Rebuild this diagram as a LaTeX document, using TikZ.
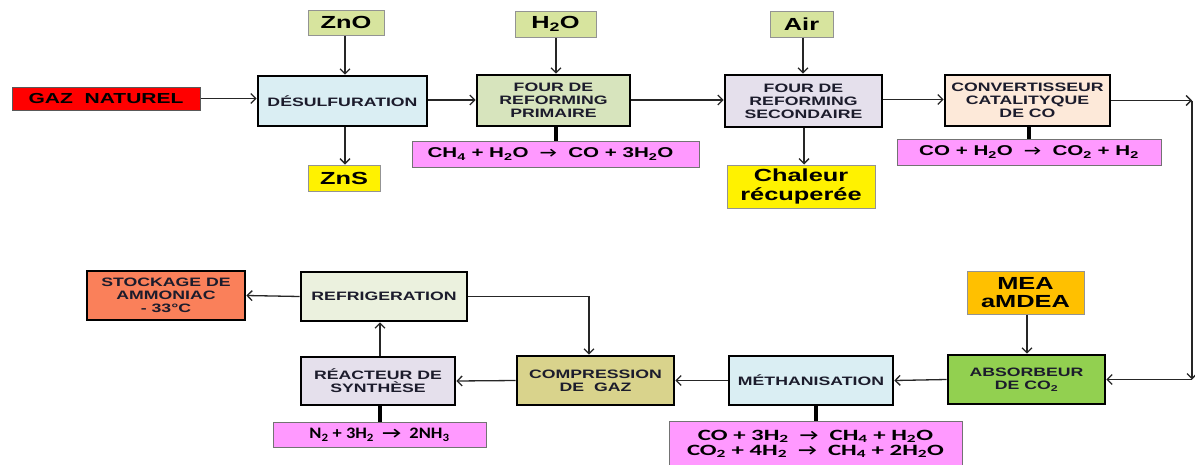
\documentclass[tikz,border=0pt]{standalone}
\usepackage{fontspec}
\setmainfont{Liberation Sans}
\newfontfamily\wide{Liberation Sans}[FakeStretch=1.45]
\newfontfamily\eqfont{Carlito}[FakeStretch=1.15]
\newfontfamily\eqwide{Carlito}[FakeStretch=1.58]
\newfontfamily\arrfont{Carlito}[FakeStretch=1.3]
\newcommand\rxarrow{\ \ {\arrfont\bfseries →}\ \ }
\usetikzlibrary{arrows.meta}

\definecolor{feedgreen}{HTML}{D7E49E}
\definecolor{eqpink}{HTML}{FF99FF}
\definecolor{desblue}{HTML}{DAEEF3}
\definecolor{primgreen}{HTML}{D7E4BD}
\definecolor{seclav}{HTML}{E5E0EC}
\definecolor{convpeach}{HTML}{FDE9D9}
\definecolor{meaorange}{HTML}{FFC000}
\definecolor{absgreen}{HTML}{92D050}
\definecolor{compkhaki}{HTML}{D9D38C}
\definecolor{refrgreen}{HTML}{EBF1DE}
\definecolor{stockcoral}{HTML}{FA805A}
\definecolor{textdark}{HTML}{1C1C2C}

\begin{document}
\begin{tikzpicture}[x=1pt,y=-1pt,
  proc/.style={draw=black, line width=2.6pt, inner sep=0pt, align=center,
    text=textdark, font=\wide\bfseries\fontsize{12.2}{12.9}\selectfont},
  feed/.style={draw=gray!85, line width=1pt, inner sep=0pt, align=center,
    font=\wide\bfseries\fontsize{17.5}{18.5}\selectfont},
  eqbox/.style={draw=gray!90!black, line width=1pt, fill=eqpink, inner sep=0pt,
    align=center, font=\wide\bfseries\fontsize{14.2}{15}\selectfont},
  flow/.style={draw=black!85, line width=1.3pt,
    -{Straight Barb[length=5pt,width=10pt,line width=1.3pt]}},
  feedflow/.style={flow, line width=2pt},
  link/.style={draw=black, line width=4pt}]

\useasboundingbox (0,0) rectangle (1195,464);

% --- upper line: gas preparation ---
\node[draw=gray!70!black, line width=1pt, fill=red, inner sep=0pt,
  minimum width=188pt, minimum height=23pt,
  font=\wide\bfseries\fontsize{14.5}{15}\selectfont] (gaz) at (106,98.5) {GAZ\ \ NATUREL};
\node[proc, fill=desblue, minimum width=169pt, minimum height=50pt] (des) at (342.5,101) {DÉSULFURATION};
\node[feed, fill=feedgreen, minimum width=76pt, minimum height=25pt] (zno) at (346,22.5) {ZnO};
\node[feed, fill=yellow, minimum width=72pt, minimum height=26pt] (zns) at (344,178) {ZnS};

\node[feed, fill=feedgreen, minimum width=81pt, minimum height=26pt] (h2o) at (555.5,24) {H\textsubscript{2}O};
\node[proc, fill=primgreen, minimum width=153pt, minimum height=51pt] (fp) at (553.5,100.5) {FOUR DE\\REFORMING\\PRIMAIRE};
\node[eqbox, minimum width=287pt, minimum height=26pt] (eq1) at (555.5,154)
  {CH\textsubscript{4} + H\textsubscript{2}O\rxarrow CO + 3H\textsubscript{2}O\hspace{10pt}};

\node[feed, fill=feedgreen, minimum width=63pt, minimum height=26pt] (air) at (801.5,24) {Air};
\node[proc, fill=seclav, minimum width=157pt, minimum height=52pt] (fs) at (803.5,101) {FOUR DE\\REFORMING\\SECONDAIRE};
\node[feed, fill=yellow, minimum width=148pt, minimum height=43pt] (chal) at (801,186.5) {Chaleur\\récuperée};

\node[proc, fill=convpeach, minimum width=165pt, minimum height=51pt] (conv) at (1027.5,100.5) {CONVERTISSEUR\\CATALITYQUE\\DE CO};
\node[eqbox, minimum width=264pt, minimum height=26pt] (eq2) at (1029,152)
  {CO + H\textsubscript{2}O\rxarrow CO\textsubscript{2} + H\textsubscript{2}};

\coordinate (c1) at (1192,100.5);
\coordinate (c2) at (1192,379.5);

% --- lower line: purification and synthesis ---
\node[feed, fill=meaorange, minimum width=117pt, minimum height=43pt] (mea) at (1025.5,292.5) {MEA\\aMDEA};
\node[proc, fill=absgreen, minimum width=157pt, minimum height=49pt] (abs) at (1026.5,379.5) {ABSORBEUR\\DE CO\textsubscript{2}};
\node[proc, fill=desblue, minimum width=164pt, minimum height=49pt] (meth) at (811,380.5) {MÉTHANISATION};
\node[eqbox, minimum width=293pt, minimum height=46pt, font=\eqwide\bfseries\fontsize{15.7}{14.8}\selectfont] (eq3) at (815.5,444)
  {CO + 3H\textsubscript{2}\rxarrow CH\textsubscript{4} + H\textsubscript{2}O\\
   CO\textsubscript{2} + 4H\textsubscript{2}\rxarrow CH\textsubscript{4} + 2H\textsubscript{2}O};
\node[proc, fill=compkhaki, minimum width=157pt, minimum height=49pt] (comp) at (595.5,380.5) {COMPRESSION\\DE\ \ GAZ};
\node[proc, fill=seclav, minimum width=154pt, minimum height=48pt] (reac) at (378,381) {RÉACTEUR DE\\SYNTHÈSE};
\node[eqbox, minimum width=213pt, minimum height=25pt, font=\eqfont\bfseries\fontsize{16}{16}\selectfont] (eq4) at (379.5,434.5)
  {N\textsubscript{2} + 3H\textsubscript{2}\rxarrow 2NH\textsubscript{3}};
\node[proc, fill=refrgreen, minimum width=166pt, minimum height=49pt] (refr) at (384,296.5) {REFRIGERATION};
\node[proc, fill=stockcoral, minimum width=158pt, minimum height=49pt] (stock) at (166,295.5) {STOCKAGE DE\\AMMONIAC\\- 33°C};
\coordinate (c3) at (589,296.5);

% --- connectors ---
\draw[flow] (gaz.east) -- (gaz.east -| des.west);
\draw[feedflow] (zno.south -| 345,0) -- (345,0 |- des.north);
\draw[feedflow] (des.south -| 345,0) -- (345,0 |- zns.north);
\draw[flow] (des.east |- 0,100) -- (fp.west |- 0,100);
\draw[flow] (h2o.south -| 556,0) -- (556,0 |- fp.north);
\draw[link] (fp.south -| 556,0) -- (556,0 |- eq1.north);
\draw[flow] (fp.east |- 0,100) -- (fs.west |- 0,100);
\draw[feedflow] (air.south -| 803,0) -- (803,0 |- fs.north);
\draw[flow] (fs.south -| 804,0) -- (804,0 |- chal.north);
\draw[flow] (fs.east |- 0,99.5) -- (conv.west |- 0,99.5);
\draw[link] (conv.south -| 1029,0) -- (1029,0 |- eq2.north);
\draw[flow] (conv.east) -- (c1);
\draw[feedflow] (c1) -- (c2);
\draw[flow] (c2) -- (abs.east);
\draw[flow] (mea.south -| 1027,0) -- (1027,0 |- abs.north);
\draw[flow] (abs.west) -- (meth.east);
\draw[link] (meth.south -| 816,0) -- (816,0 |- eq3.north);
\draw[flow] (meth.west) -- (comp.east);
\draw[flow] (comp.west) -- (reac.east);
\draw[link] (reac.south -| 380,0) -- (380,0 |- eq4.north);
\draw[flow] (reac.north -| 380,0) -- (380,0 |- refr.south);
\draw[flow] (refr.east) -- (c3) -- (c3 |- comp.north);
\draw[flow] (refr.west) -- (stock.east);
\end{tikzpicture}
\end{document}
